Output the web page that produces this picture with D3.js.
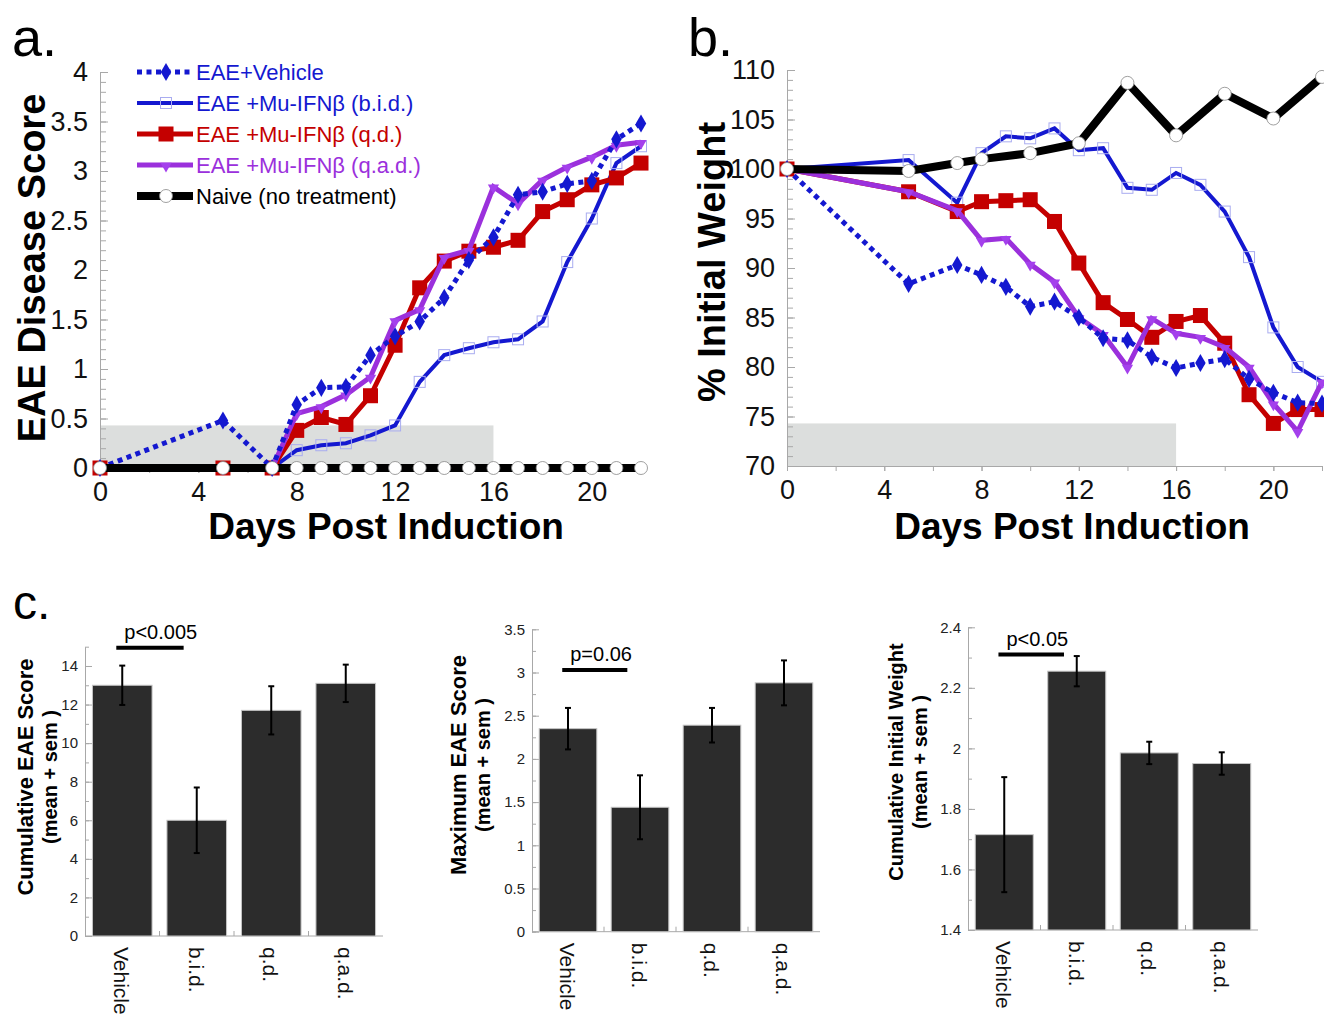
<!DOCTYPE html>
<html>
<head>
<meta charset="utf-8">
<script src="https://cdn.jsdelivr.net/npm/d3@7"></script>
<style>
  body { margin: 0; background: #fff; }
  svg { font-family: "Liberation Sans", Arial, sans-serif; }
</style>
</head>
<body>
<svg id="fig" width="1324" height="1014"></svg>
<script>
// ---------- data: panel a (EAE disease score) ----------
const daysA = [0, 5, 7, 8, 9, 10, 11, 12, 13, 14, 15, 16, 17, 18, 19, 20, 21, 22];
const vehicleA = [0, 0.48, 0, 0.64, 0.81, 0.82, 1.14, 1.33, 1.48, 1.72, 2.1, 2.33, 2.76, 2.79, 2.87, 2.9, 3.32, 3.48];
const bidA = [0, 0, 0, 0.18, 0.23, 0.25, 0.33, 0.43, 0.87, 1.14, 1.21, 1.27, 1.3, 1.48, 2.08, 2.52, 3.08, 3.25];
const qdA = [0, 0, 0, 0.38, 0.51, 0.44, 0.73, 1.24, 1.82, 2.09, 2.19, 2.23, 2.3, 2.59, 2.71, 2.86, 2.93, 3.08];
const qadA = [0, 0, 0, 0.55, 0.62, 0.74, 0.92, 1.49, 1.6, 2.13, 2.2, 2.84, 2.67, 2.91, 3.04, 3.14, 3.26, 3.29];
const naiveA = [0, 0, 0, 0, 0, 0, 0, 0, 0, 0, 0, 0, 0, 0, 0, 0, 0, 0];

// ---------- data: panel b (% initial weight) ----------
const daysB = [0, 5, 7, 8, 9, 10, 11, 12, 13, 14, 15, 16, 17, 18, 19, 20, 21, 22];
const vehicleB = [100, 88.4, 90.3, 89.3, 88.1, 86.1, 86.6, 85.0, 82.9, 82.7, 81.0, 79.9, 80.4, 80.8, 78.8, 77.4, 76.4, 76.3];
const bidB = [100, 100.9, 96.6, 101.6, 103.3, 103.1, 104.1, 101.9, 102.1, 98.1, 97.9, 99.6, 98.4, 95.7, 91.1, 84.0, 80.0, 78.5];
const qdB = [100, 97.7, 95.7, 96.7, 96.8, 96.9, 94.7, 90.5, 86.5, 84.8, 83.0, 84.6, 85.2, 82.4, 77.2, 74.3, 75.7, 75.7];
const qadB = [100, 97.7, 95.8, 92.8, 93.0, 90.4, 88.6, 85.0, 83.3, 80.0, 84.9, 83.4, 83.0, 82.0, 80.0, 76.3, 73.5, 78.5];
const naiveDaysB = [0, 5, 7, 8, 10, 12, 14, 16, 18, 20, 22];
const naiveB = [100, 99.8, 100.6, 101, 101.6, 102.6, 108.7, 103.4, 107.6, 105.1, 109.3];

// treatment window (grey band)
const treatDays = [0, 16];

// ---------- data: panel c (bars) ----------
const groups = ["Vehicle", "b.i.d.", "q.d.", "q.a.d."];
const cumScore = [13.0, 6.0, 11.7, 13.1];
const cumScoreSem = [1.02, 1.7, 1.25, 0.97];
const maxScore = [2.35, 1.44, 2.39, 2.88];
const maxScoreSem = [0.24, 0.37, 0.2, 0.26];
const cumWeight = [1.715, 2.255, 1.985, 1.95];
const cumWeightSem = [0.19, 0.05, 0.037, 0.037];
const pLabels = ["p<0.005", "p=0.06", "p<0.05"];
const pLevels = [14.95, 3.03, 2.31];

const svg = d3.select("#fig");
const axisGrey = "#a8a8a8";

const styles = {
  vehicle: {label: "EAE+Vehicle", color: "#1418d0", width: 5, dash: "5,4.5", marker: "diamond", text: "#1418d0"},
  bid: {label: "EAE +Mu-IFN\u03b2 (b.i.d.)", color: "#1418d0", width: 4, marker: "openSquare", text: "#1418d0"},
  qd: {label: "EAE +Mu-IFN\u03b2 (q.d.)", color: "#c40000", width: 5, marker: "square", text: "#c40000"},
  qad: {label: "EAE +Mu-IFN\u03b2 (q.a.d.)", color: "#9b30dc", width: 5, marker: "triangle", text: "#9b30dc"},
  naive: {label: "Naive (no treatment)", color: "#000", width: 8, marker: "circle", text: "#000"}
};

function drawMarks(g, s, pts) {
  const sel = g.append("g").selectAll(null).data(pts).enter();
  if (s.marker === "diamond") {
    sel.append("path").attr("d", d3.symbol(d3.symbolDiamond, 95)())
      .attr("transform", p => `translate(${p[0]},${p[1]})`).attr("fill", s.color);
  } else if (s.marker === "openSquare") {
    sel.append("rect").attr("x", p => p[0] - 5.5).attr("y", p => p[1] - 5.5)
      .attr("width", 11).attr("height", 11).attr("fill", "none")
      .attr("stroke", "#a9acf0").attr("stroke-width", 1);
  } else if (s.marker === "square") {
    sel.append("rect").attr("x", p => p[0] - 7.5).attr("y", p => p[1] - 7.5)
      .attr("width", 15).attr("height", 15).attr("fill", s.color);
  } else if (s.marker === "triangle") {
    sel.append("path").attr("d", d3.symbol(d3.symbolTriangle, 55)())
      .attr("transform", p => `translate(${p[0]},${p[1] + 1}) rotate(180)`).attr("fill", "#a440ec");
  } else if (s.marker === "circle") {
    sel.append("circle").attr("cx", p => p[0]).attr("cy", p => p[1]).attr("r", 6.5)
      .attr("fill", "#fff").attr("stroke", "#888").attr("stroke-width", 0.8);
  }
}

function drawSeries(g, s, xs, ys, x, y) {
  const pts = xs.map((d, i) => [x(d), y(ys[i])]);
  g.append("path").attr("d", d3.line()(pts))
    .attr("fill", "none").attr("stroke", s.color).attr("stroke-width", s.width)
    .attr("stroke-dasharray", s.dash || null).attr("stroke-linejoin", "miter");
  drawMarks(g, s, pts);
}

function styleAxis(a) {
  a.selectAll(".domain").attr("stroke", axisGrey);
  a.selectAll(".tick line").attr("stroke", axisGrey);
}

// line panel (a and b)
function linePanel(o) {
  const g = svg.append("g");
  const x = d3.scaleLinear().domain([0, 22]).range(o.xRange);
  const y = d3.scaleLinear().domain(o.yDomain).range(o.yRange);

  // grey treatment band
  g.append("rect").attr("x", x(treatDays[0])).attr("width", x(treatDays[1]) - x(treatDays[0]))
    .attr("y", y(o.bandTop)).attr("height", y(o.yDomain[0]) - y(o.bandTop)).attr("fill", "#dcdedd");

  // y axis
  const ya = g.append("g").attr("transform", `translate(${o.xRange[0]},0)`)
    .call(d3.axisLeft(y).tickValues(o.yMinor).tickSizeInner(-6).tickSizeOuter(0).tickFormat(""));
  styleAxis(ya);
  const yb = g.append("g").attr("transform", `translate(${o.xRange[0]},0)`)
    .call(d3.axisLeft(y).tickValues(o.yMajor).tickSizeInner(-8).tickSizeOuter(0).tickPadding(12).tickFormat(d => d));
  styleAxis(yb);
  yb.select(".domain").remove();
  yb.selectAll("text").attr("fill", "#111").style("font-size", "27px");

  // x axis
  const xa = g.append("g").attr("transform", `translate(0,${o.yRange[0]})`)
    .call(d3.axisBottom(x).tickValues(d3.range(0, 23, 2)).tickSizeInner(5).tickSizeOuter(0).tickFormat(""));
  styleAxis(xa);
  const xb = g.append("g").attr("transform", `translate(0,${o.yRange[0]})`)
    .call(d3.axisBottom(x).tickValues(d3.range(0, 21, 4)).tickSizeInner(5).tickSizeOuter(0).tickPadding(9).tickFormat(d => d));
  styleAxis(xb);
  xb.select(".domain").remove();
  xb.selectAll("text").attr("fill", "#111").style("font-size", "27px");

  // series
  o.series.forEach(s => drawSeries(g, styles[s.key], s.days, s.values, x, y));

  // axis titles
  g.append("text").attr("x", o.xTitleX).attr("y", 539)
    .attr("text-anchor", "middle").style("font-size", "37px").style("font-weight", "bold")
    .text("Days Post Induction");
  g.append("text").attr("transform", `translate(${o.yTitleX},${o.yTitleY}) rotate(-90)`)
    .attr("text-anchor", "middle").style("font-size", "38px").style("font-weight", "bold")
    .text(o.yTitle);
  return g;
}

linePanel({
  xRange: [100, 641], yDomain: [0, 4], yRange: [468, 72], bandTop: 0.43,
  yMajor: d3.range(0, 4.01, 0.5), yMinor: d3.range(0, 4.01, 0.1),
  yTitle: "EAE Disease Score", yTitleX: 45, yTitleY: 268, xTitleX: 386,
  series: [
    {key: "bid", days: daysA, values: bidA},
    {key: "qd", days: daysA, values: qdA},
    {key: "qad", days: daysA, values: qadA},
    {key: "vehicle", days: daysA, values: vehicleA},
    {key: "naive", days: daysA, values: naiveA}
  ]
});

linePanel({
  xRange: [787, 1322], yDomain: [70, 110], yRange: [466, 70], bandTop: 74.3,
  yMajor: d3.range(70, 111, 5), yMinor: d3.range(70, 111, 1),
  yTitle: "% Initial Weight", yTitleX: 725, yTitleY: 262, xTitleX: 1072,
  series: [
    {key: "bid", days: daysB, values: bidB},
    {key: "qd", days: daysB, values: qdB},
    {key: "qad", days: daysB, values: qadB},
    {key: "vehicle", days: daysB, values: vehicleB},
    {key: "naive", days: naiveDaysB, values: naiveB}
  ]
});

// legend for panel a
const legendKeys = ["vehicle", "bid", "qd", "qad", "naive"];
const leg = svg.append("g");
legendKeys.forEach((k, i) => {
  const s = styles[k];
  const cy = 72 + i * 31;
  const row = leg.append("g");
  row.append("path").attr("d", d3.line()([[137, cy], [193, cy]]))
    .attr("stroke", s.color).attr("stroke-width", s.width).attr("stroke-dasharray", s.dash || null);
  drawMarks(row, s, [[166, cy]]);
  row.append("text").attr("x", 196).attr("y", cy + 7.5).attr("fill", s.text)
    .style("font-size", "22px").text(s.label);
});

// panel letters
svg.append("text").attr("x", 12).attr("y", 56).style("font-size", "54px").text("a.");
svg.append("text").attr("x", 688).attr("y", 56).style("font-size", "54px").text("b.");
svg.append("text").attr("x", 13).attr("y", 619).style("font-size", "48px").text("c.");

// bar panels
function barPanel(o) {
  const g = svg.append("g");
  const x = d3.scaleBand().domain(groups).range(o.xRange).paddingInner(0.2).paddingOuter(0.1);
  const y = d3.scaleLinear().domain(o.yDomain).range(o.yRange);

  const ya = g.append("g").attr("transform", `translate(${o.xRange[0]},0)`)
    .call(d3.axisLeft(y).tickValues(o.yMinor).tickSizeInner(-4).tickSizeOuter(0).tickFormat(""));
  styleAxis(ya);
  const yb = g.append("g").attr("transform", `translate(${o.xRange[0]},0)`)
    .call(d3.axisLeft(y).tickValues(o.yMajor).tickSizeInner(-7).tickSizeOuter(0).tickPadding(7).tickFormat(d => d));
  styleAxis(yb);
  yb.select(".domain").remove();
  yb.selectAll("text").attr("fill", "#222").style("font-size", "15px");

  // x axis line with ticks between bars
  const base = y(o.yDomain[0]);
  g.append("line").attr("x1", o.xRange[0]).attr("x2", o.xRange[1]).attr("y1", base).attr("y2", base)
    .attr("stroke", axisGrey);
  g.selectAll(null).data(groups.slice(1)).enter().append("line")
    .attr("x1", d => x(d) - x.step() * 0.1).attr("x2", d => x(d) - x.step() * 0.1)
    .attr("y1", base).attr("y2", base - 5).attr("stroke", axisGrey);

  // bars
  g.selectAll(null).data(o.values).enter().append("rect")
    .attr("x", (d, i) => x(groups[i])).attr("width", x.bandwidth())
    .attr("y", d => y(d)).attr("height", d => base - y(d))
    .attr("fill", "#2c2c2c").attr("stroke", "#c4c4c4").attr("stroke-width", 1);

  // error bars
  const eb = g.selectAll(null).data(o.values).enter().append("g")
    .attr("transform", (d, i) => `translate(${x(groups[i]) + x.bandwidth() / 2},0)`);
  eb.append("line").attr("y1", (d, i) => y(d - o.sem[i])).attr("y2", (d, i) => y(d + o.sem[i]))
    .attr("stroke", "#000").attr("stroke-width", 2);
  eb.append("line").attr("x1", -3).attr("x2", 3).attr("y1", (d, i) => y(d + o.sem[i])).attr("y2", (d, i) => y(d + o.sem[i]))
    .attr("stroke", "#000").attr("stroke-width", 2);
  eb.append("line").attr("x1", -3).attr("x2", 3).attr("y1", (d, i) => y(d - o.sem[i])).attr("y2", (d, i) => y(d - o.sem[i]))
    .attr("stroke", "#000").attr("stroke-width", 2);

  // category labels (rotated)
  g.selectAll(null).data(groups).enter().append("text")
    .attr("transform", d => `translate(${x(d) + x.bandwidth() / 2 - 8},${base + 11}) rotate(90)`)
    .attr("fill", "#111").style("font-size", "21px").text(d => d);

  // significance bar
  const x1 = x(groups[0]) + x.bandwidth() * 0.4, x2 = x(groups[1]) + x.bandwidth() * 0.28;
  g.append("line").attr("x1", x1).attr("x2", x2).attr("y1", y(o.pLevel)).attr("y2", y(o.pLevel))
    .attr("stroke", "#000").attr("stroke-width", 4);
  g.append("text").attr("x", x1 + 8).attr("y", y(o.pLevel) - 9).style("font-size", "20px").text(o.pLabel);

  // y titles
  g.append("text").attr("transform", `translate(${o.titleX},${o.titleY}) rotate(-90)`)
    .attr("text-anchor", "middle").style("font-size", o.titleSize + "px").style("font-weight", "bold").text(o.title);
  g.append("text").attr("transform", `translate(${o.titleX + 24},${o.titleY}) rotate(-90)`)
    .attr("text-anchor", "middle").style("font-size", "20px").style("font-weight", "bold").text("(mean + sem )");
}

barPanel({
  xRange: [85, 383], yDomain: [0, 15], yRange: [936, 646.7],
  yMajor: d3.range(0, 15, 2), yMinor: d3.range(0, 15.01, 1),
  values: cumScore, sem: cumScoreSem, pLabel: pLabels[0], pLevel: pLevels[0],
  title: "Cumulative EAE Score", titleSize: 22, titleX: 33, titleY: 777
});
barPanel({
  xRange: [532, 820], yDomain: [0, 3.5], yRange: [931.7, 629.3],
  yMajor: d3.range(0, 3.51, 0.5), yMinor: d3.range(0, 3.51, 0.25),
  values: maxScore, sem: maxScoreSem, pLabel: pLabels[1], pLevel: pLevels[1],
  title: "Maximum EAE Score", titleSize: 22, titleX: 466, titleY: 765
});
barPanel({
  xRange: [968, 1258], yDomain: [1.4, 2.4], yRange: [930, 627.3],
  yMajor: d3.range(1.4, 2.41, 0.2).map(v => +v.toFixed(1)), yMinor: d3.range(1.4, 2.41, 0.1),
  values: cumWeight, sem: cumWeightSem, pLabel: pLabels[2], pLevel: pLevels[2],
  title: "Cumulative Initial Weight", titleSize: 20, titleX: 903, titleY: 762
});
</script>
</body>
</html>
